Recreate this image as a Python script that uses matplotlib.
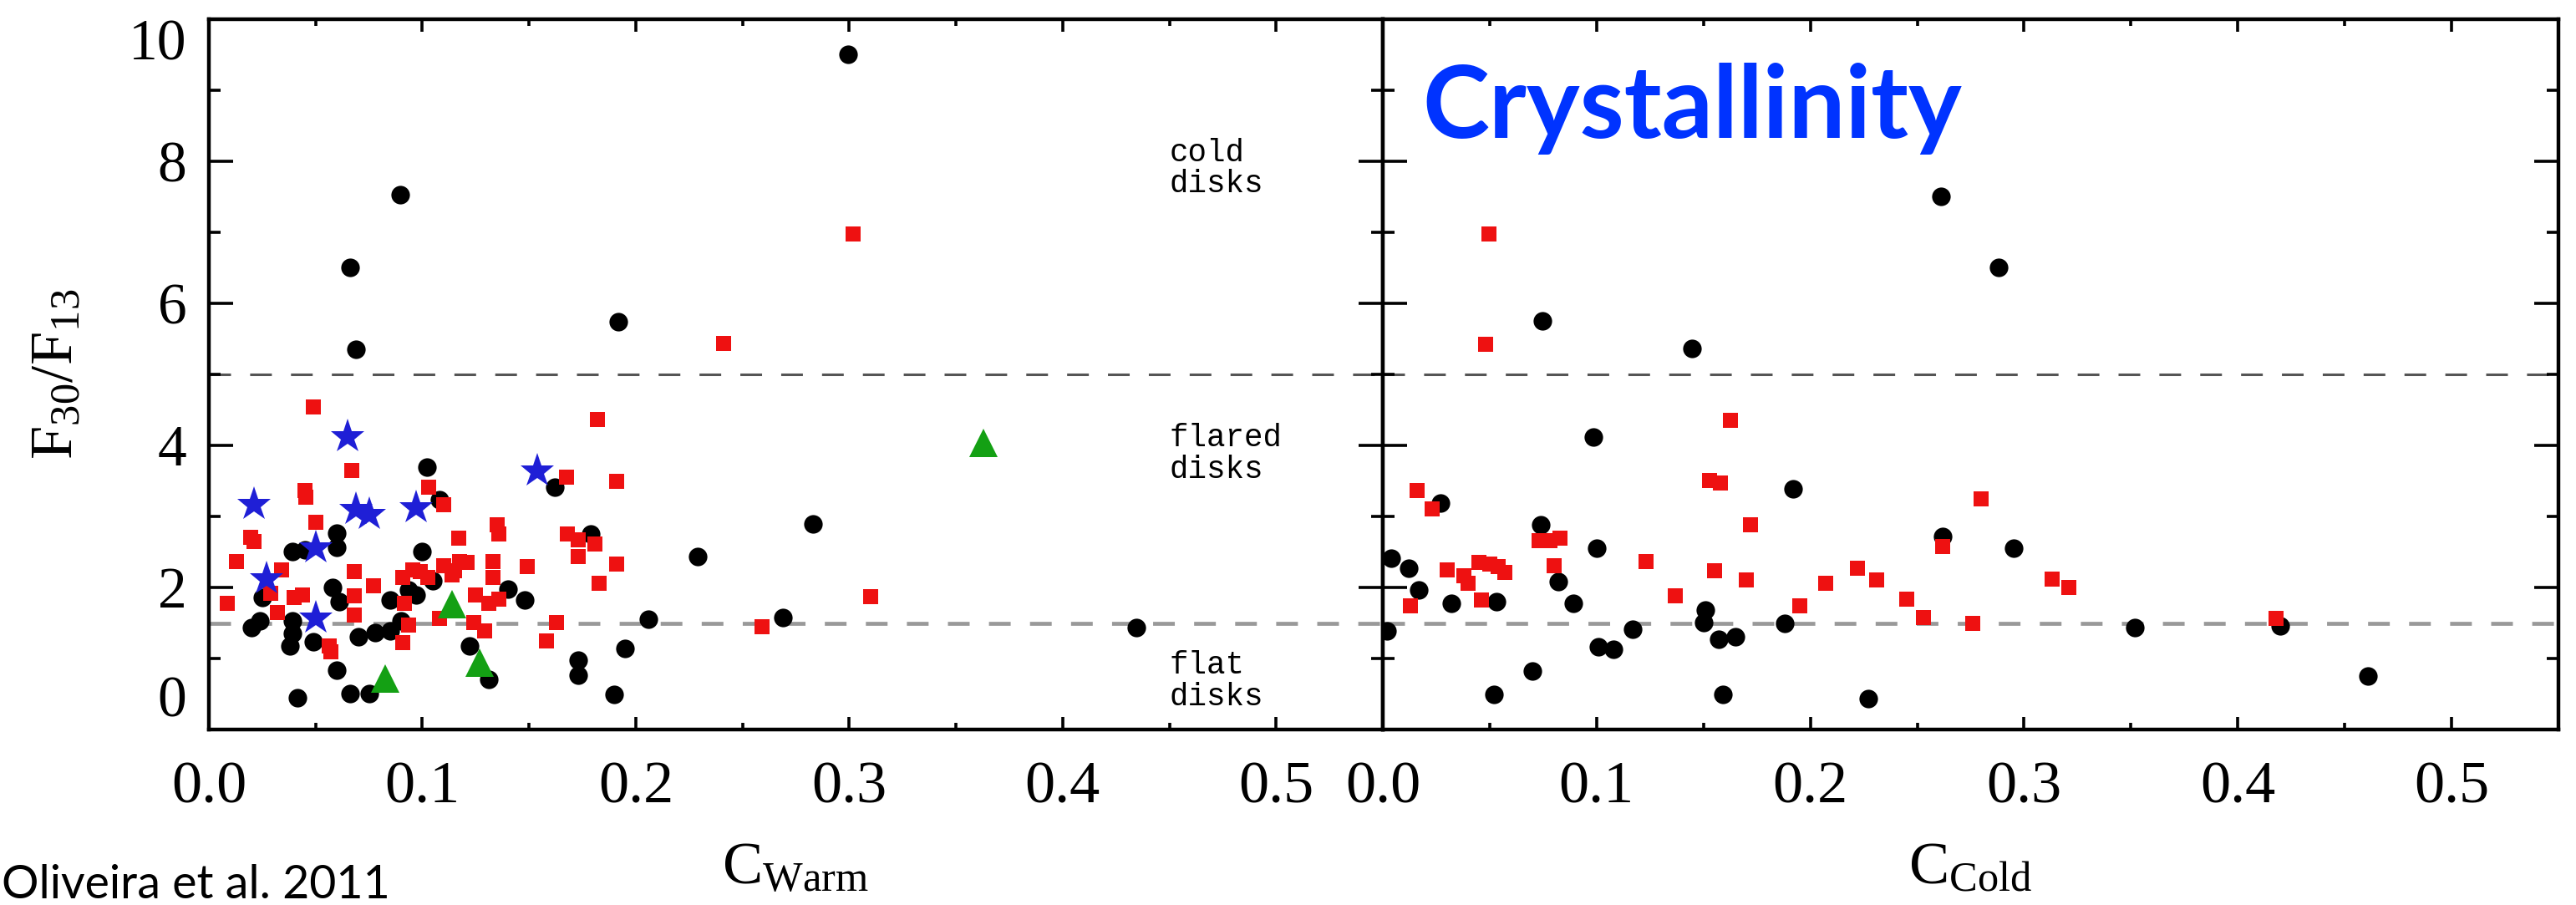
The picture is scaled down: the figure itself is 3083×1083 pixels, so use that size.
import matplotlib
matplotlib.use("Agg")
import matplotlib.pyplot as plt
from matplotlib.ticker import MultipleLocator

plt.rcParams['font.family'] = ['Liberation Serif', 'DejaVu Serif']
plt.rcParams['mathtext.fontset'] = 'custom'
plt.rcParams['mathtext.rm'] = 'Liberation Serif'

# ---- C_warm panel ----
warm_circle_x = [0.102, 0.108, 0.162, 0.060, 0.060, 0.039, 0.045, 0.100, 0.179, 0.058,
                 0.061, 0.025, 0.024, 0.020, 0.039, 0.039, 0.038, 0.049, 0.070, 0.078,
                 0.085, 0.090, 0.085, 0.0935, 0.097, 0.105, 0.140, 0.148, 0.122, 0.131,
                 0.060, 0.0415, 0.066, 0.075, 0.173, 0.173, 0.190, 0.229, 0.283, 0.206,
                 0.269, 0.195, 0.0895, 0.066, 0.069, 0.192, 0.2995, 0.4345]
warm_circle_y = [3.69, 3.24, 3.41, 2.76, 2.57, 2.51, 2.53, 2.51, 2.75, 2.00,
                 1.80, 1.86, 1.53, 1.43, 1.53, 1.35, 1.18, 1.24, 1.31, 1.37,
                 1.39, 1.53, 1.82, 1.96, 1.90, 2.10, 1.98, 1.82, 1.18, 0.71,
                 0.84, 0.45, 0.51, 0.51, 0.98, 0.76, 0.49, 2.43, 2.90, 1.55,
                 1.58, 1.14, 7.53, 6.51, 5.35, 5.74, 9.51, 1.43]

warm_square_x = [0.067, 0.045, 0.0455, 0.103, 0.110, 0.1675, 0.191, 0.050, 0.0195, 0.021,
                 0.013, 0.034, 0.0085, 0.029, 0.032, 0.040, 0.044, 0.0565, 0.057, 0.068,
                 0.068, 0.068, 0.077, 0.0915, 0.091, 0.0955, 0.099, 0.1025, 0.0935, 0.091,
                 0.108, 0.110, 0.115, 0.1175, 0.121, 0.117, 0.114, 0.133, 0.133, 0.135,
                 0.136, 0.149, 0.125, 0.131, 0.136, 0.124, 0.129, 0.163, 0.158, 0.168,
                 0.173, 0.181, 0.173, 0.183, 0.191, 0.182, 0.259, 0.310, 0.049, 0.241,
                 0.302]
warm_square_y = [3.65, 3.37, 3.27, 3.41, 3.16, 3.55, 3.49, 2.92, 2.71, 2.65,
                 2.37, 2.25, 1.78, 1.92, 1.65, 1.86, 1.90, 1.18, 1.10, 2.22,
                 1.88, 1.61, 2.02, 1.78, 2.14, 2.25, 2.22, 2.14, 1.47, 1.22,
                 1.57, 2.31, 2.24, 2.37, 2.35, 2.69, 2.18, 2.37, 2.14, 2.88,
                 2.75, 2.29, 1.90, 1.78, 1.84, 1.51, 1.39, 1.51, 1.25, 2.75,
                 2.67, 2.61, 2.43, 2.06, 2.33, 4.37, 1.45, 1.87, 4.54, 5.43,
                 6.98]

warm_star_x = [0.021, 0.069, 0.075, 0.097, 0.050, 0.027, 0.050, 0.154, 0.065]
warm_star_y = [3.16, 3.10, 3.02, 3.12, 2.55, 2.12, 1.57, 3.63, 4.12]

warm_triangle_x = [0.0825, 0.114, 0.127, 0.363]
warm_triangle_y = [0.72, 1.76, 0.94, 4.03]

# ---- C_cold panel ----
cold_circle_x = [0.027, 0.004, 0.012, 0.017, 0.032, 0.053, 0.002, 0.074, 0.082, 0.089,
                 0.100, 0.070, 0.052, 0.101, 0.108, 0.117, 0.151, 0.150, 0.157, 0.165,
                 0.159, 0.192, 0.188, 0.227, 0.262, 0.261, 0.288, 0.295, 0.352, 0.420,
                 0.461, 0.0748, 0.1448, 0.0985]
cold_circle_y = [3.19, 2.41, 2.27, 1.96, 1.78, 1.80, 1.39, 2.88, 2.08, 1.78,
                 2.55, 0.82, 0.49, 1.17, 1.13, 1.41, 1.68, 1.51, 1.27, 1.31,
                 0.49, 3.39, 1.49, 0.43, 2.72, 7.51, 6.51, 2.55, 1.44, 1.46,
                 0.75, 5.75, 5.36, 4.12]

cold_square_x = [0.016, 0.023, 0.030, 0.013, 0.038, 0.040, 0.045, 0.050, 0.054, 0.057,
                 0.046, 0.073, 0.078, 0.083, 0.080, 0.123, 0.137, 0.153, 0.158, 0.172,
                 0.155, 0.170, 0.195, 0.207, 0.222, 0.231, 0.245, 0.253, 0.262, 0.280,
                 0.313, 0.321, 0.276, 0.418, 0.0497, 0.048, 0.1625]
cold_square_y = [3.37, 3.11, 2.25, 1.74, 2.17, 2.06, 2.35, 2.33, 2.29, 2.21,
                 1.82, 2.66, 2.66, 2.70, 2.31, 2.37, 1.88, 3.51, 3.47, 2.88,
                 2.23, 2.11, 1.74, 2.06, 2.27, 2.11, 1.84, 1.58, 2.58, 3.25,
                 2.12, 2.00, 1.49, 1.56, 6.98, 5.42, 4.35]

region_lines = [5.0, 1.5]
x_ticks = [0.0, 0.1, 0.2, 0.3, 0.4, 0.5]
y_ticks = [0, 2, 4, 6, 8, 10]

RED = '#ee1111'
BLUE = '#1f1fd6'
GREEN = '#14a014'

fig = plt.figure(figsize=(30.83, 10.83), dpi=100)
ax1 = fig.add_axes([250 / 3083, 210 / 1083, 1405 / 3083, 850 / 1083])
ax2 = fig.add_axes([1655 / 3083, 210 / 1083, 1407 / 3083, 850 / 1083])

for ax in (ax1, ax2):
    ax.set_xlim(0, 0.55)
    ax.set_ylim(0, 10)
    ax.set_xticks(x_ticks)
    ax.set_xticklabels(['%.1f' % v for v in x_ticks])
    ax.set_yticks(y_ticks)
    ax.xaxis.set_minor_locator(MultipleLocator(0.05))
    ax.yaxis.set_minor_locator(MultipleLocator(1))
    ax.tick_params(axis='x', which='major', direction='in', length=11, width=2.6,
                   top=True, bottom=True, labelsize=52, pad=27)
    ax.tick_params(axis='x', which='minor', direction='in', length=6, width=2.6,
                   top=True, bottom=True)
    ax.tick_params(axis='y', which='major', direction='in', length=21, width=2.6,
                   left=True, right=True, labelsize=50, pad=19)
    ax.tick_params(axis='y', which='minor', direction='in', length=10, width=2.6,
                   left=True, right=True)
    for s in ax.spines.values():
        s.set_linewidth(3.2)
    # region boundaries
    ax.axhline(region_lines[0], color='#555555', lw=2.2, ls=(0, (8.5, 7.5)), zorder=1)
    ax.axhline(region_lines[1], color='#999999', lw=3.4, ls=(0, (5.5, 4.9)), zorder=1)

ax2.tick_params(axis='y', labelleft=False)

# keep the end labels inside the axis range
yt = ax1.yaxis.get_major_ticks()
yt[0].label1.set_va('bottom')
yt[-1].label1.set_va('top')

ax1.plot(warm_circle_x, warm_circle_y, 'o', color='black', ms=16, mew=0, zorder=3)
ax1.plot(warm_square_x, warm_square_y, 's', color=RED, ms=12.5, mew=0, zorder=4)
ax1.plot(warm_star_x, warm_star_y, '*', color=BLUE, ms=31, mew=0, zorder=5)
ax1.plot(warm_triangle_x, warm_triangle_y, '^', color=GREEN, ms=24, mew=0, zorder=5)

ax2.plot(cold_circle_x, cold_circle_y, 'o', color='black', ms=16, mew=0, zorder=3)
ax2.plot(cold_square_x, cold_square_y, 's', color=RED, ms=12.5, mew=0, zorder=4)

# disk class annotations
txt = dict(family=['Liberation Mono', 'DejaVu Sans Mono'], fontsize=27,
           ha='left', va='center', linespacing=1.05)
ax1.text(0.45, 7.9, 'cold\ndisks', **txt)
ax1.text(0.45, 3.88, 'flared\ndisks', **txt)
ax1.text(0.45, 0.68, 'flat\ndisks', **txt)

ax1.set_ylabel(r'$\mathrm{F_{30}/F_{13}}$', fontsize=52, labelpad=38)
fig.text(952 / 3083, 1 - 1040 / 1083, r'$\mathrm{C_{Warm}}$', fontsize=52,
         ha='center', va='center')
fig.text(2358 / 3083, 1 - 1040 / 1083, r'$\mathrm{C_{Cold}}$', fontsize=52,
         ha='center', va='center')

fig.text(1702 / 3083, 1 - 130 / 1083, 'Crystallinity', family='Lato',
         fontweight='bold', fontsize=87, color='#0033ff', ha='left', va='center')
fig.text(2 / 3083, 1 - 1075 / 1083, 'Oliveira et al. 2011', family='Lato',
         fontsize=40, color='black', ha='left', va='baseline')

fig.savefig('out.png', dpi=100)
